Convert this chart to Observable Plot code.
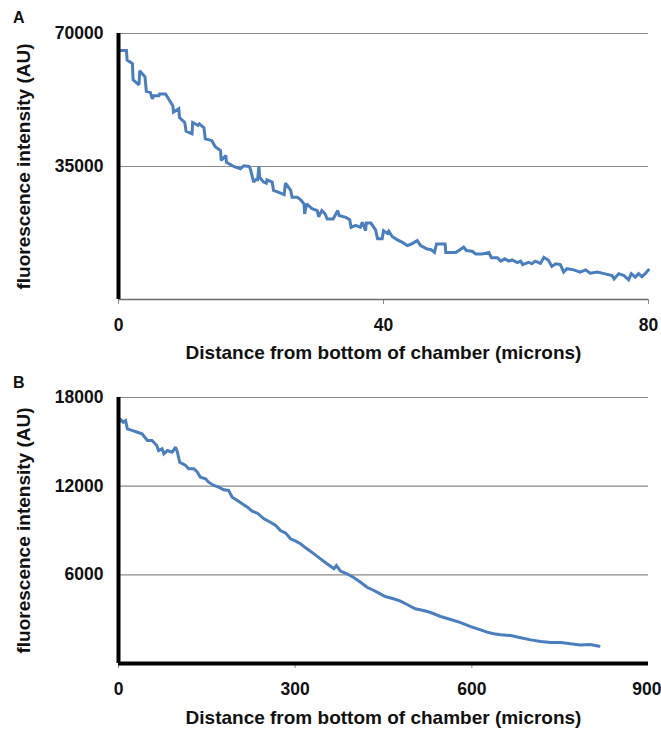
<!DOCTYPE html>
<html><head><meta charset="utf-8">
<script src="https://cdn.jsdelivr.net/npm/d3@7"></script>
<script src="https://cdn.jsdelivr.net/npm/@observablehq/plot@0.6"></script>
<style>
body{margin:0;background:#fff;font-family:"Liberation Sans",Arial,sans-serif;}
.panel{position:relative;width:661px;height:365px;}
.tag{position:absolute;left:13px;top:10px;font-weight:bold;font-size:16px;line-height:1;color:#111;z-index:2;}
</style></head><body>
<div id="A" class="panel"><div class="tag">A</div></div>
<div id="B" class="panel"><div class="tag">B</div></div>
<script>
// Panel A: distance (microns) and intensity (AU)
const aDist = [0.2,1.2,1.3,2.1,2.2,3.1,3.2,4.0,4.2,4.8,
5.1,5.3,6.1,6.2,7.1,8.2,8.3,9.1,9.2,10.0,
10.2,11.1,11.2,12.0,12.2,12.9,13.1,14.1,14.6,15.4,
15.5,16.2,16.3,17.4,18.4,18.9,19.7,19.9,20.4,20.7,
21.0,21.2,21.3,21.9,22.3,22.4,23.2,23.4,24.2,25.0,
25.2,26.0,26.2,27.0,27.5,28.0,28.1,28.4,29.2,30.0,
30.2,30.7,31.2,31.5,32.4,33.1,33.3,34.3,34.9,35.1,
35.8,36.5,36.8,37.3,37.4,38.1,38.8,39.1,39.8,40.0,
40.6,40.8,41.3,42.1,42.8,43.6,44.2,45.1,45.6,46.6,
47.2,47.7,48.0,49.3,49.4,50.9,51.4,52.1,52.5,53.4,
53.9,54.9,55.9,56.3,57.2,57.7,58.3,58.9,59.4,60.2,
60.7,61.0,61.9,62.4,62.9,63.7,64.2,64.9,65.4,66.0,
66.7,67.2,67.7,68.7,69.7,70.5,71.2,72.3,73.3,74.5,
74.8,75.5,76.3,77.0,77.4,78.0,78.5,79.0,79.5,80.0];
const aInt = [65500,65500,63000,62100,57800,56500,60200,58600,54800,54500,
52800,53600,53600,54100,54100,51000,49300,50200,47900,46600,
44300,43600,46600,45800,46200,45200,42300,41800,40200,39200,
36600,37900,36100,35000,34400,35200,35000,34400,30900,31500,
31500,35000,32200,30900,30600,31500,30900,28700,28200,27600,
30600,28700,26900,26900,26200,25200,22500,25200,23900,23400,
21800,23400,22500,21200,21200,23400,22100,21600,21000,19000,
19500,19000,20300,18100,20100,20100,18300,16000,16000,18100,
17400,18000,16600,15700,15100,14200,14600,15500,14200,13300,
13100,12400,14600,14600,12400,12400,12900,13800,12900,12700,
12000,12000,12400,11000,11000,10100,10700,10100,10400,9700,
10100,9200,9800,9400,10100,9500,11100,10300,8700,9400,
9200,7200,8100,7800,7200,7800,6900,7200,6800,6300,
5400,6800,6300,5200,6800,5900,6800,6000,6800,7800];

// Panel B: distance (microns) and intensity (AU)
const bDist = [1,4,8,12,15,23,32,40,49,57,65,68,74,77,83,91,97,100,104,114,
119,128,134,139,148,153,162,170,179,187,193,202,210,219,227,236,247,258,267,275,
284,292,301,309,320,332,343,354,366,370,377,388,400,411,422,431,439,453,467,479,
490,504,518,530,547,564,581,598,615,626,637,649,666,683,700,717,734,751,768,784,801,816];
const bInt = [16330,16490,16330,16440,15880,15770,15650,15540,15090,15090,14750,14410,14530,14190,14410,14300,14640,14300,13620,13400,
13180,13180,12950,12610,12500,12270,12050,11930,11750,11710,11250,11030,10810,10580,10310,10170,9790,9560,9340,9000,
8820,8440,8280,8100,7760,7420,7080,6750,6410,6630,6250,6070,5800,5500,5160,4990,4830,4530,4380,4220,
3990,3700,3590,3450,3180,2980,2770,2500,2280,2120,2010,1940,1890,1740,1600,1490,1420,1420,1330,1260,1290,1170];

const aXTicks = [0, 40, 80];
const aYTicks = [35000, 70000];
const bXTicks = [0, 300, 600, 900];
const bYTicks = [6000, 12000, 18000];
const xTitle = "Distance from bottom of chamber (microns)";
const yTitle = "fluorescence intensity (AU)";

const FONT = '"Liberation Sans", Arial, sans-serif';
const LINE = "#4a7ebf";

function panel(opts) {
  const data = opts.xs.map((x, i) => ({x, y: opts.ys[i]}));
  const lastTick = opts.xTicks[opts.xTicks.length - 1];
  const innerTicks = opts.xTicks.slice(0, -1);
  return Plot.plot({
    width: 661, height: 365,
    marginLeft: 118, marginRight: 13, marginTop: opts.mt, marginBottom: opts.mb,
    style: {fontFamily: FONT, fontSize: "17.5px", fontWeight: "bold", color: "#111", background: "white", overflow: "visible"},
    x: {domain: opts.xDomain},
    y: {domain: opts.yDomain},
    marks: [
      Plot.ruleY(opts.yTicks, {stroke: "#8a8a8a", strokeWidth: 1.2}),
      Plot.axisX({ticks: innerTicks, tickFormat: d => String(d), tickSize: 5, tickPadding: 14, stroke: "#8a8a8a", label: null}),
      Plot.axisX({ticks: [lastTick], tickFormat: d => String(d), tickSize: 5, tickPadding: 14, stroke: "#8a8a8a", label: null,
        textAnchor: opts.lastEnd ? "end" : "middle", dx: opts.lastEnd ? 13 : 0}),
      Plot.axisY({ticks: opts.yTicks, tickFormat: d => String(d), tickSize: 0, tickPadding: 15, label: null}),
      Plot.line(data, {x: "x", y: "y", stroke: LINE, strokeWidth: opts.lw, strokeLinejoin: "miter", strokeMiterlimit: 2}),
      opts.thickX
        ? Plot.ruleY([opts.yDomain[0]], {stroke: "#000", strokeWidth: 4})
        : Plot.ruleY([opts.yDomain[0]], {stroke: "#6e6e6e", strokeWidth: 1.6}),
      Plot.ruleX([opts.xDomain[0]], {stroke: "#000", strokeWidth: 4}),
      Plot.text([xTitle], {frameAnchor: "bottom", dy: opts.xtDy, fontSize: 19, fontWeight: "bold", textAnchor: "middle", lineAnchor: "middle", fill: "#111"}),
      Plot.text([yTitle], {frameAnchor: "left", dx: -95, rotate: -90, fontSize: 19, fontWeight: "bold", textAnchor: "middle", lineAnchor: "middle", fill: "#111"})
    ]
  });
}

document.getElementById("A").appendChild(panel({
  xs: aDist, ys: aInt, xDomain: [0, 80], yDomain: [0, 70000],
  xTicks: aXTicks, yTicks: aYTicks, mt: 33, mb: 66, thickX: false, lw: 3, xtDy: 53, lastEnd: false
}));
document.getElementById("B").appendChild(panel({
  xs: bDist, ys: bInt, xDomain: [0, 900], yDomain: [0, 18000],
  xTicks: bXTicks, yTicks: bYTicks, mt: 32, mb: 67, thickX: true, lw: 3, xtDy: 54, lastEnd: true
}));
</script></body></html>
